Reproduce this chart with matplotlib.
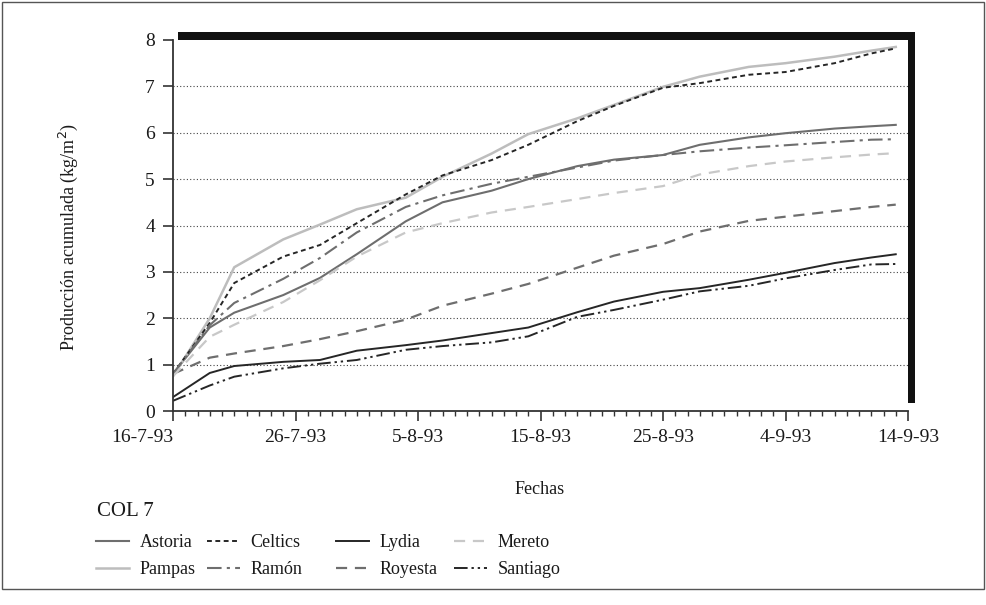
import matplotlib
matplotlib.use('Agg')
import matplotlib.pyplot as plt
from matplotlib.patches import Rectangle
from matplotlib.ticker import MultipleLocator

plt.rcParams['font.family'] = ['Liberation Serif', 'DejaVu Serif']

# ── Data (days since 16-7-93) ─────────────────────────────────────────────────
days = [0, 3, 5, 9, 12, 15, 19, 22, 26, 29, 33, 36, 40, 43, 47, 50, 54, 57, 59]

astoria  = [0.80, 1.80, 2.12, 2.50, 2.87, 3.38, 4.09, 4.50, 4.75, 5.00, 5.28, 5.42,
            5.52, 5.74, 5.90, 5.99, 6.09, 6.14, 6.17]
celtics  = [0.80, 1.90, 2.76, 3.33, 3.58, 4.05, 4.67, 5.08, 5.41, 5.74, 6.25, 6.58,
            6.97, 7.07, 7.25, 7.31, 7.50, 7.71, 7.82]
lydia    = [0.30, 0.82, 0.97, 1.06, 1.10, 1.30, 1.42, 1.52, 1.68, 1.80, 2.13, 2.36,
            2.57, 2.65, 2.83, 2.98, 3.19, 3.31, 3.38]
mereto   = [0.75, 1.60, 1.86, 2.35, 2.82, 3.33, 3.85, 4.05, 4.28, 4.40, 4.57, 4.70,
            4.85, 5.10, 5.28, 5.38, 5.47, 5.53, 5.56]
pampas   = [0.75, 2.00, 3.10, 3.70, 4.02, 4.35, 4.60, 5.05, 5.55, 5.97, 6.31, 6.60,
            6.99, 7.21, 7.42, 7.50, 7.64, 7.77, 7.85]
ramon    = [0.80, 1.85, 2.33, 2.85, 3.30, 3.85, 4.40, 4.65, 4.90, 5.05, 5.25, 5.40,
            5.52, 5.60, 5.68, 5.73, 5.80, 5.85, 5.86]
royesta  = [0.80, 1.15, 1.24, 1.40, 1.55, 1.72, 1.97, 2.27, 2.53, 2.74, 3.09, 3.35,
            3.60, 3.87, 4.10, 4.19, 4.31, 4.40, 4.45]
santiago = [0.22, 0.55, 0.74, 0.92, 1.02, 1.10, 1.32, 1.40, 1.48, 1.61, 2.03, 2.18,
            2.40, 2.58, 2.70, 2.86, 3.04, 3.16, 3.17]

tick_days   = [0, 10, 20, 30, 40, 50, 60]
tick_labels = ['16-7-93', '26-7-93', '5-8-93', '15-8-93', '25-8-93', '4-9-93', '14-9-93']

# ── Figure ────────────────────────────────────────────────────────────────────
W, H = 986, 605
fig = plt.figure(figsize=(W / 100, H / 100), dpi=100)

def px(x0, y0, x1, y1):
    # pixel box (top-left origin) -> figure fraction rect
    return [x0 / W, 1 - y1 / H, (x1 - x0) / W, (y1 - y0) / H]

# outer frame and drop shadow
fig.patches.append(Rectangle((2 / W, 1 - 589 / H), 982 / W, 587 / H,
                             transform=fig.transFigure, fill=False,
                             ec='#555555', lw=1.0, zorder=0))
fig.patches.append(Rectangle((178 / W, 1 - 403 / H), (915 - 178) / W, (403 - 32) / H,
                             transform=fig.transFigure, fc='#111111', ec='none', zorder=0))

ax = fig.add_axes(px(173, 40, 908, 411))
ax.set_zorder(1)
ax.patch.set_facecolor('white')

c_dark, c_mid, c_light = '#262626', '#6e6e6e', '#bdbdbd'
series = [
    ('Astoria',  astoria,  dict(color=c_mid,   ls='-',  lw=1.5)),
    ('Pampas',   pampas,   dict(color=c_light, ls='-',  lw=1.8)),
    ('Celtics',  celtics,  dict(color=c_dark,  ls=(0, (2.5, 1.8)), lw=1.4)),
    ('Ramón',    ramon,    dict(color=c_mid,   ls=(0, (7, 2.5, 1.5, 2.5)), lw=1.5)),
    ('Lydia',    lydia,    dict(color=c_dark,  ls='-',  lw=1.4)),
    ('Royesta',  royesta,  dict(color=c_mid,   ls=(0, (5, 3.5)), lw=1.6)),
    ('Mereto',   mereto,   dict(color='#c8c8c8', ls=(0, (5, 3.5)), lw=1.6)),
    ('Santiago', santiago, dict(color=c_dark,  ls=(0, (7, 2, 1.2, 2, 1.2, 2)), lw=1.4)),
]
handles = []
for name, vals, st in series:
    ln, = ax.plot(days, vals, label=name, **st)
    handles.append(ln)

ax.set_xlim(0, 60)
ax.set_ylim(0, 8)
ax.set_xticks(tick_days)
ax.set_xticklabels(tick_labels)
ax.get_xticklabels()[0].set_ha('right')
ax.xaxis.set_minor_locator(MultipleLocator(1))
ax.set_yticks(range(9))

for y in range(1, 8):
    ax.axhline(y, color='#444444', lw=0.8, ls=(0, (1, 2)), zorder=0)

for s in ['top', 'right']:
    ax.spines[s].set_visible(False)
for s in ['left', 'bottom']:
    ax.spines[s].set_color('#333333')
    ax.spines[s].set_linewidth(1.3)

ax.tick_params(axis='both', which='major', direction='out', length=7, width=1.2,
               color='#333333', labelsize=14, labelcolor='#1a1a1a')
ax.tick_params(axis='x', which='minor', direction='out', length=3.5, width=1.0,
               color='#333333')
ax.tick_params(axis='x', which='major', pad=6)
ax.tick_params(axis='y', which='major', pad=6)

ax.set_ylabel('Producción acumulada (kg/m$^2$)', fontsize=13, color='#1a1a1a')
ax.yaxis.set_label_coords(-0.126, 0.47)

fig.text(540 / W, 1 - 490 / H, 'Fechas', fontsize=13, ha='center', va='center',
         color='#1a1a1a')
fig.text(97 / W, 1 - 512 / H, 'COL 7', fontsize=15, ha='left', va='center',
         color='#1a1a1a')

# legend: one column per block, placed like the original
col_x = [96, 207, 336, 454]
for i, x0 in enumerate(col_x):
    hs = handles[2 * i:2 * i + 2]
    fig.legend(handles=hs, labels=[h.get_label() for h in hs],
               loc='center left', bbox_to_anchor=(x0 / W, 1 - 556 / H),
               ncol=1, frameon=False, fontsize=13, handlelength=1.85,
               handletextpad=0.55, borderpad=0, borderaxespad=0,
               labelspacing=0.55, labelcolor='#1a1a1a')

fig.savefig('out.png', dpi=100)
